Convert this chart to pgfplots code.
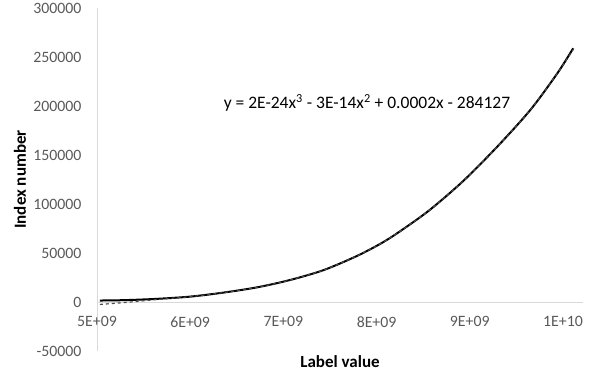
\documentclass[border=0pt]{standalone}
\usepackage{fontspec}
\setmainfont{Carlito}
\usepackage{pgfplots}
\pgfplotsset{compat=1.18}
\definecolor{tickgray}{HTML}{595959}
\definecolor{axgray}{HTML}{D9D9D9}
\begin{document}
\begin{tikzpicture}
\begin{axis}[
  scale only axis,
  width=486pt, height=343pt,
  xmin=5e9, xmax=1.0215e10,
  ymin=-50000, ymax=300000,
  axis x line=middle, axis y line=left,
  hide obscured x ticks=false,
  axis line style={-, draw=axgray, line width=0.8pt},
  xtick={5e9,6e9,7e9,8e9,9e9,1e10},
  xticklabels={5E+09,6E+09,7E+09,8E+09,9E+09,1E+10},
  ytick={-50000,0,50000,100000,150000,200000,250000,300000},
  yticklabels={-50000,0,50000,100000,150000,200000,250000,300000},
  scaled x ticks=false, scaled y ticks=false,
  major tick length=0pt,
  tick label style={font=\fontsize{15.8}{18}\selectfont, text=tickgray},
  xticklabel style={yshift=-11pt},
  yticklabel style={xshift=-12pt},
  xlabel={\textbf{Label value}},
  ylabel={\textbf{Index number}},
  label style={font=\fontsize{17}{20}\selectfont},
  xlabel style={at={(rel axis cs:0.5,0)}, anchor=center, yshift=-11pt},
  ylabel style={at={(rel axis cs:0,0.5)}, anchor=center, yshift=77pt},
  clip=false,
]
\addplot[black, line width=2pt, smooth, tension=0.5] coordinates {
(5.03e9,1500) (5.30e9,1900) (5.64e9,3200) (6.00e9,5500) (6.35e9,9500)
(6.72e9,15000) (7.07e9,22400) (7.43e9,32500) (7.79e9,47000) (8.07e9,61000)
(8.28e9,74000) (8.57e9,93900) (8.93e9,123500) (9.29e9,158000) (9.65e9,196000)
(9.94e9,233400) (10.11e9,258900)
};
\addplot[black!70, dashed, line width=1.2pt, smooth, tension=0.5] coordinates {
(5.03e9,-2500) (5.30e9,-500) (5.64e9,2500) (6.00e9,5500) (6.35e9,9500)
(6.72e9,15000) (7.07e9,22400) (7.43e9,32500) (7.79e9,47000) (8.07e9,61000)
(8.28e9,74000) (8.57e9,93900) (8.93e9,123500) (9.29e9,158000) (9.65e9,196000)
(9.94e9,233400) (10.11e9,257500)
};
\node[font=\fontsize{17.5}{20}\selectfont, anchor=center] at (axis cs:7.897e9,203000)
  {y = 2E-24x\textsuperscript{3} - 3E-14x\textsuperscript{2} + 0.0002x - 284127};
\coordinate (bl) at (rel axis cs:0,0);
\coordinate (tr) at (rel axis cs:1,1);
\end{axis}
\pgfresetboundingbox
\path ([xshift=-97pt,yshift=-29pt]bl) rectangle ([xshift=15pt,yshift=8pt]tr);
\end{tikzpicture}
\end{document}
